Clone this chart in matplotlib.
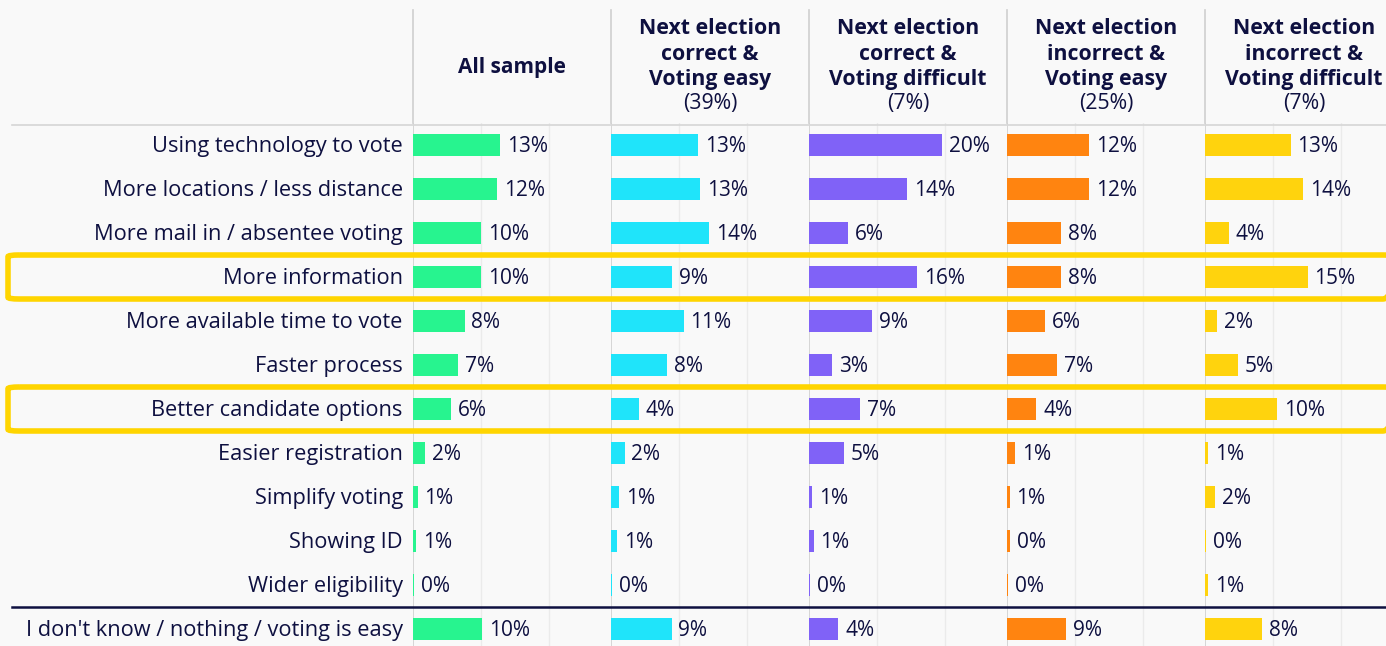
import matplotlib.pyplot as plt
import matplotlib.transforms as mtransforms
from matplotlib.lines import Line2D
from matplotlib.patches import FancyBboxPatch

categories = ['Using technology to vote', 'More locations / less distance',
              'More mail in / absentee voting', 'More information',
              'More available time to vote', 'Faster process',
              'Better candidate options', 'Easier registration',
              'Simplify voting', 'Showing ID', 'Wider eligibility',
              "I don't know / nothing / voting is easy"]

headers = [['All sample'],
           ['Next election', 'correct &', 'Voting easy'],
           ['Next election', 'correct &', 'Voting difficult'],
           ['Next election', 'incorrect &', 'Voting easy'],
           ['Next election', 'incorrect &', 'Voting difficult']]
group_shares = [None, '(39%)', '(7%)', '(25%)', '(7%)']

# bar lengths (estimated) and printed labels
all_sample = [12.8, 12.4, 10.0, 10.0, 7.6, 6.6, 5.6, 1.8, 0.7, 0.5, 0.2, 10.2]
correct_easy = [12.8, 13.1, 14.4, 9.0, 10.7, 8.2, 4.1, 2.0, 1.2, 0.9, 0.2, 8.9]
correct_difficult = [19.6, 14.4, 5.7, 15.9, 9.3, 3.4, 7.5, 5.1, 0.5, 0.7, 0.2, 4.3]
incorrect_easy = [12.1, 12.1, 7.9, 7.9, 5.6, 7.4, 4.3, 1.2, 0.4, 0.4, 0.2, 8.7]
incorrect_difficult = [12.6, 14.4, 3.5, 15.1, 1.8, 4.9, 10.6, 0.5, 1.5, 0.2, 0.5, 8.4]

labels_all = [13, 12, 10, 10, 8, 7, 6, 2, 1, 1, 0, 10]
labels_ce = [13, 13, 14, 9, 11, 8, 4, 2, 1, 1, 0, 9]
labels_cd = [20, 14, 6, 16, 9, 3, 7, 5, 1, 1, 0, 4]
labels_ie = [12, 12, 8, 8, 6, 7, 4, 1, 1, 0, 0, 9]
labels_id = [13, 14, 4, 15, 2, 5, 10, 1, 2, 0, 1, 8]

series = [all_sample, correct_easy, correct_difficult, incorrect_easy, incorrect_difficult]
labels = [labels_all, labels_ce, labels_cd, labels_ie, labels_id]
colors = ['#27F48F', '#1FE4FA', '#8062F7', '#FF8410', '#FFD30D']
highlight_rows = [3, 6]

W, H = 1386, 646
navy = '#0E1040'
bg = '#F9F9F9'
plt.rcParams['font.family'] = ['Open Sans', 'DejaVu Sans']

fig = plt.figure(figsize=(W / 100, H / 100), dpi=100, facecolor=bg)

n = len(categories)
left0, pw = 413, 198
top, bottom = 123, 646
row_h = 44
ymax = n - 1 + (bottom - (145 + row_h * (n - 1))) / row_h
axes = []
for i, (vals, labs, col) in enumerate(zip(series, labels, colors)):
    ax = fig.add_axes([(left0 + pw * i) / W, 0, pw / W, (bottom - top) / H])
    ax.set_facecolor(bg)
    ax.set_xlim(0, pw / 6.8)
    ax.set_ylim(ymax, -0.5)
    ax.barh(range(n), vals, height=0.5, color=col, zorder=3)
    for y, (v, l) in enumerate(zip(vals, labs)):
        ax.text(v + 1.0, y + 0.03, f'{l}%', va='center', ha='left', fontsize=15,
                color=navy, zorder=4)
    for g in (10, 20):
        ax.axvline(g, color='#EBEBEB', lw=1, zorder=1)
    ax.axvline(0, color='#CFCFCF', lw=1.2, zorder=2)
    ax.set_xticks([])
    ax.set_yticks([])
    for s in ax.spines.values():
        s.set_visible(False)
    axes.append(ax)

ax0 = axes[0]
for y, c in enumerate(categories):
    ax0.text(-1.5, y + 0.03, c, ha='right', va='center', fontsize=15.7,
             color=navy, clip_on=False)

# headers
for i, (lines, share) in enumerate(zip(headers, group_shares)):
    cx = (left0 + pw * i + pw / 2) / W
    if share is None:
        fig.text(cx, 1 - 67 / H, lines[0], ha='center', va='center',
                 fontsize=15, fontweight='bold', color=navy)
        continue
    for k, line in enumerate(lines):
        fig.text(cx, 1 - (29 + 25 * k) / H, line, ha='center', va='center',
                 fontsize=15.3, fontweight='bold', color=navy)
    fig.text(cx, 1 - 104 / H, share, ha='center', va='center',
             fontsize=15.3, color=navy)
    fig.add_artist(Line2D([(left0 + pw * i) / W] * 2, [1 - 10 / H, 1 - top / H],
                          color='#CFCFCF', lw=1.2))
fig.add_artist(Line2D([left0 / W] * 2, [1 - 10 / H, 1 - top / H],
                      color='#CFCFCF', lw=1.2))

# header bottom line
fig.add_artist(Line2D([12 / W, 1], [1 - 125 / H] * 2, color='#D6D6D6', lw=1.2))

# navy divider before last row
trans = mtransforms.blended_transform_factory(fig.transFigure, ax0.transData)
fig.add_artist(Line2D([12 / W, 1], [n - 1.5] * 2, transform=trans,
                      color=navy, lw=1.8, zorder=5))

# yellow highlight boxes
for r in highlight_rows:
    box = FancyBboxPatch((8 / W, r - 0.5), 1.0, 1.0, transform=trans,
                         boxstyle='round,pad=0,rounding_size=0.008',
                         fill=False, edgecolor='#FFD500', lw=4, zorder=6,
                         mutation_aspect=1 / 0.2)
    fig.add_artist(box)

fig.savefig('out.png', dpi=100, facecolor=bg)
